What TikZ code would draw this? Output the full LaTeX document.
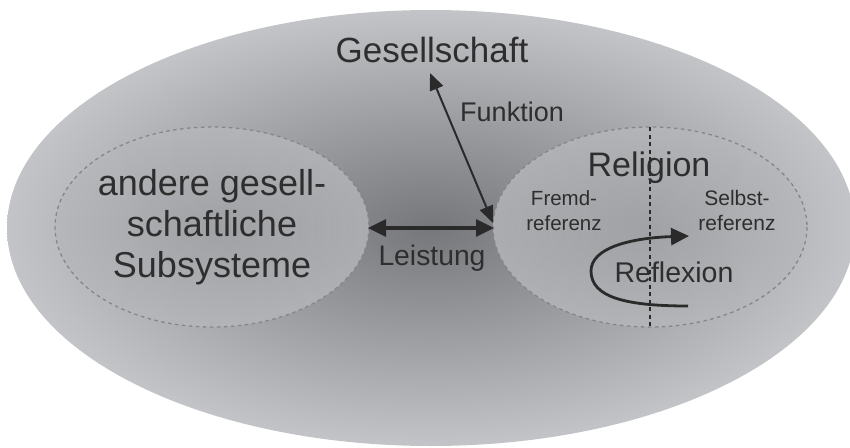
\documentclass[tikz,border=0pt]{standalone}
\usepackage{fontspec}
\setmainfont{Liberation Sans}
\usetikzlibrary{arrows.meta}
\definecolor{txt}{HTML}{2E2E2E}
\definecolor{arr}{HTML}{2A2A2A}
\definecolor{bgin}{HTML}{76777B}
\definecolor{bgout}{HTML}{C3C4C7}
\definecolor{subin}{HTML}{A2A3A6}
\definecolor{subout}{HTML}{B6B7BA}
\definecolor{dashc}{HTML}{85868A}
\tikzset{
  lbl/.style={text=txt, inner sep=0pt, anchor=base},
  subsys/.style={draw=dashc, line width=1.3pt, dash pattern=on 3.5pt off 3.5pt, inner color=subin, outer color=subout, fill opacity=0.8},
  conn/.style={draw=arr, line width=2pt, {Triangle[length=17pt,width=14pt]}-{Triangle[length=17pt,width=14pt]}},
  thickconn/.style={draw=arr, line width=3.2pt, {Triangle[length=18pt,width=17pt]}-{Triangle[length=18pt,width=17pt]}},
  reflconn/.style={draw=arr, line width=2.8pt, -{Triangle[length=18pt,width=17pt]}},
  divider/.style={draw=arr, line width=1.2pt, dash pattern=on 4pt off 3.5pt}
}
\begin{document}
\begin{tikzpicture}[x=1pt,y=-1pt]
\useasboundingbox (0,0) rectangle (850,447);
% outer ellipse (society)
\shade[inner color=bgin, outer color=bgout] (431,228) ellipse [x radius=424, y radius=218];
% subsystems
\path[subsys] (212,227) ellipse [x radius=157, y radius=100];
\path[subsys] (650,227) ellipse [x radius=157, y radius=100];
% divider in Religion
\coordinate (divtop) at (650,127);
\coordinate (divbot) at (650,327);
\draw[divider] (divtop) -- (divbot);
% texts
\node[lbl, font=\fontsize{35}{40}\selectfont] (ges) at (432,62) {Gesellschaft};
\node[lbl, font=\fontsize{27}{30}\selectfont] (fun) at (512,121) {Funktion};
\node[lbl, font=\fontsize{34}{38}\selectfont] (rel) at (649,176) {Religion};
\node[lbl, font=\fontsize{20.5}{25}\selectfont, align=center] (fremd) at (564,230) {Fremd-\\referenz};
\node[lbl, font=\fontsize{21}{25}\selectfont, align=center] (selbst) at (737,230) {Selbst-\\referenz};
\node[lbl, font=\fontsize{28.5}{32}\selectfont] (refl) at (674,282) {Reflexion};
\node[lbl, font=\fontsize{28.3}{32}\selectfont] (leis) at (432,265) {Leistung};
\node[lbl, font=\fontsize{36}{41}\selectfont, align=center] (andere) at (212,277) {andere gesell-\\schaftliche\\Subsysteme};
% connectors
\coordinate (funtop) at (430,73);
\coordinate (funbot) at (493,223);
\draw[conn] (funbot) -- (funtop);
\coordinate (leisL) at (368,228);
\coordinate (leisR) at (494,228);
\draw[thickconn] (leisL) -- (leisR);
\coordinate (reflS) at (688,306);
\coordinate (reflL) at (591,271);
\coordinate (reflT) at (689,236);
\draw[reflconn] (reflS) .. controls (625,306) and (591,297) .. (reflL)
  .. controls (591,248) and (630,238) .. (reflT);
\end{tikzpicture}
\end{document}
